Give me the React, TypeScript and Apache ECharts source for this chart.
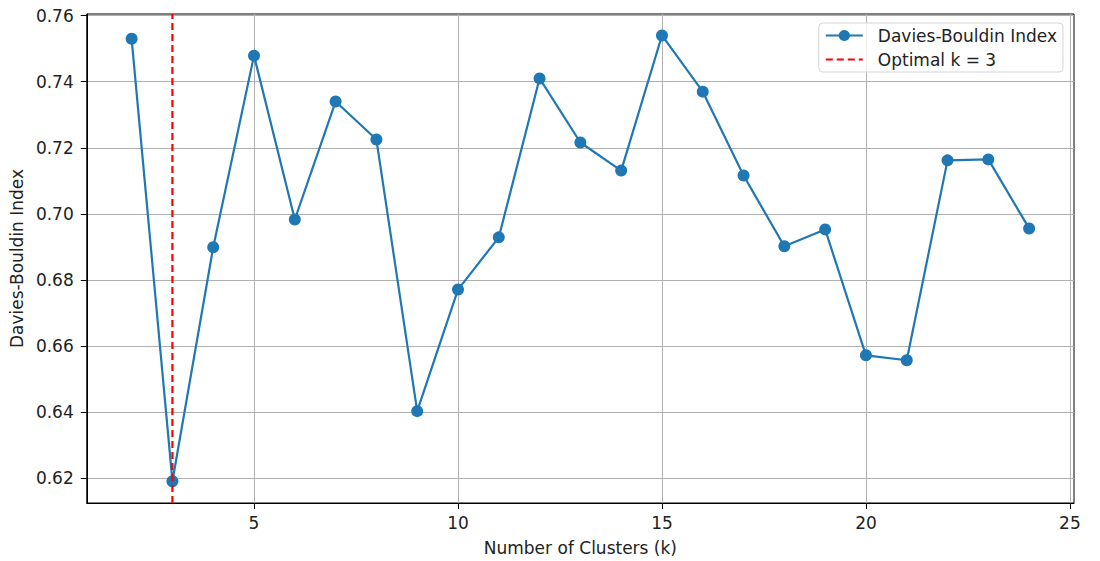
import React, { useEffect, useRef } from "react";
import * as echarts from "echarts";

const kValues = [2, 3, 4, 5, 6, 7, 8, 9, 10, 11, 12, 13, 14, 15, 16, 17, 18, 19, 20, 21, 22, 23, 24];
const dbIndex = [
  0.7530, 0.6191, 0.6899, 0.7479, 0.6983, 0.7340, 0.7225, 0.6403, 0.6771, 0.6929, 0.7410,
  0.7216, 0.7131, 0.7540, 0.7370, 0.7116, 0.6902, 0.6953, 0.6572, 0.6557, 0.7162, 0.7165, 0.6956,
];
const optimalK = 3;
const xTicks = [5, 10, 15, 20, 25];
const yTicks = [0.62, 0.64, 0.66, 0.68, 0.7, 0.72, 0.74, 0.76];
const xRange = [0.9, 25.1];
const yRange = [0.6125, 0.7605];

export default function App() {
  const ref = useRef<HTMLDivElement>(null);
  useEffect(() => {
    if (!ref.current) return;
    const chart = echarts.init(ref.current, null, { renderer: "svg" });
    const font = "DejaVu Sans";
    const fs = 17;
    chart.setOption({
      animation: false,
      backgroundColor: "#ffffff",
      grid: {
        left: 86,
        right: 26,
        top: 14,
        bottom: 58,
        show: true,
        borderColor: "#000",
        borderWidth: 1,
        backgroundColor: "transparent",
      },
      legend: {
        right: 37,
        top: 23,
        orient: "vertical",
        backgroundColor: "rgba(255,255,255,0.8)",
        borderColor: "#d5d5d5",
        borderWidth: 1,
        borderRadius: 4,
        padding: [4, 6, 4, 6],
        itemGap: 7,
        itemWidth: 37,
        itemHeight: 14,
        textStyle: { fontFamily: font, fontSize: fs, color: "#222", padding: [0, 0, 0, 10] },
        data: [
          { name: "Davies-Bouldin Index" },
          { name: "Optimal k = 3", itemStyle: { opacity: 0 } },
        ],
      },
      xAxis: {
        type: "value",
        min: xRange[0],
        max: xRange[1],
        name: "Number of Clusters (k)",
        nameLocation: "middle",
        nameGap: 36,
        nameTextStyle: { fontFamily: font, fontSize: fs, color: "#222" },
        axisLine: { show: true, onZero: false, lineStyle: { color: "#000", width: 1 } },
        axisTick: { show: true, length: 6, lineStyle: { color: "#000" }, customValues: xTicks },
        axisLabel: {
          fontFamily: font,
          fontSize: fs,
          color: "#222",
          margin: 11,
          customValues: xTicks,
          formatter: (v: number) => String(v),
        },
        splitLine: { show: true, lineStyle: { color: "#b0b0b0", width: 1 } },
      },
      yAxis: {
        type: "value",
        min: yRange[0],
        max: yRange[1],
        name: "Davies-Bouldin Index",
        nameLocation: "middle",
        nameGap: 59,
        nameTextStyle: { fontFamily: font, fontSize: fs, color: "#222" },
        axisLine: { show: true, lineStyle: { color: "#000", width: 1 } },
        axisTick: { show: true, length: 6, lineStyle: { color: "#000" }, customValues: yTicks },
        axisLabel: {
          fontFamily: font,
          fontSize: fs,
          color: "#222",
          margin: 13,
          customValues: yTicks,
          formatter: (v: number) => v.toFixed(2),
        },
        splitLine: { show: true, lineStyle: { color: "#b0b0b0", width: 1 } },
      },
      series: [
        {
          name: "Davies-Bouldin Index",
          type: "line",
          data: kValues.map((k, i) => [k, dbIndex[i]]),
          symbol: "circle",
          symbolSize: 12,
          lineStyle: { color: "#1f77b4", width: 2.2 },
          itemStyle: { color: "#1f77b4" },
          z: 3,
        },
        {
          name: "Optimal k = 3",
          type: "line",
          data: [
            [optimalK, yRange[0]],
            [optimalK, yRange[1]],
          ],
          symbol: "none",
          lineStyle: { color: "#ff0000", width: 2.2, type: [7, 4] },
          itemStyle: { color: "#ff0000" },
          z: 4,
        },
      ],
    });
    return () => chart.dispose();
  }, []);
  return (
    <div
      ref={ref}
      style={{ position: "fixed", left: 0, top: 0, width: 1100, height: 561, background: "#fff" }}
    />
  );
}
